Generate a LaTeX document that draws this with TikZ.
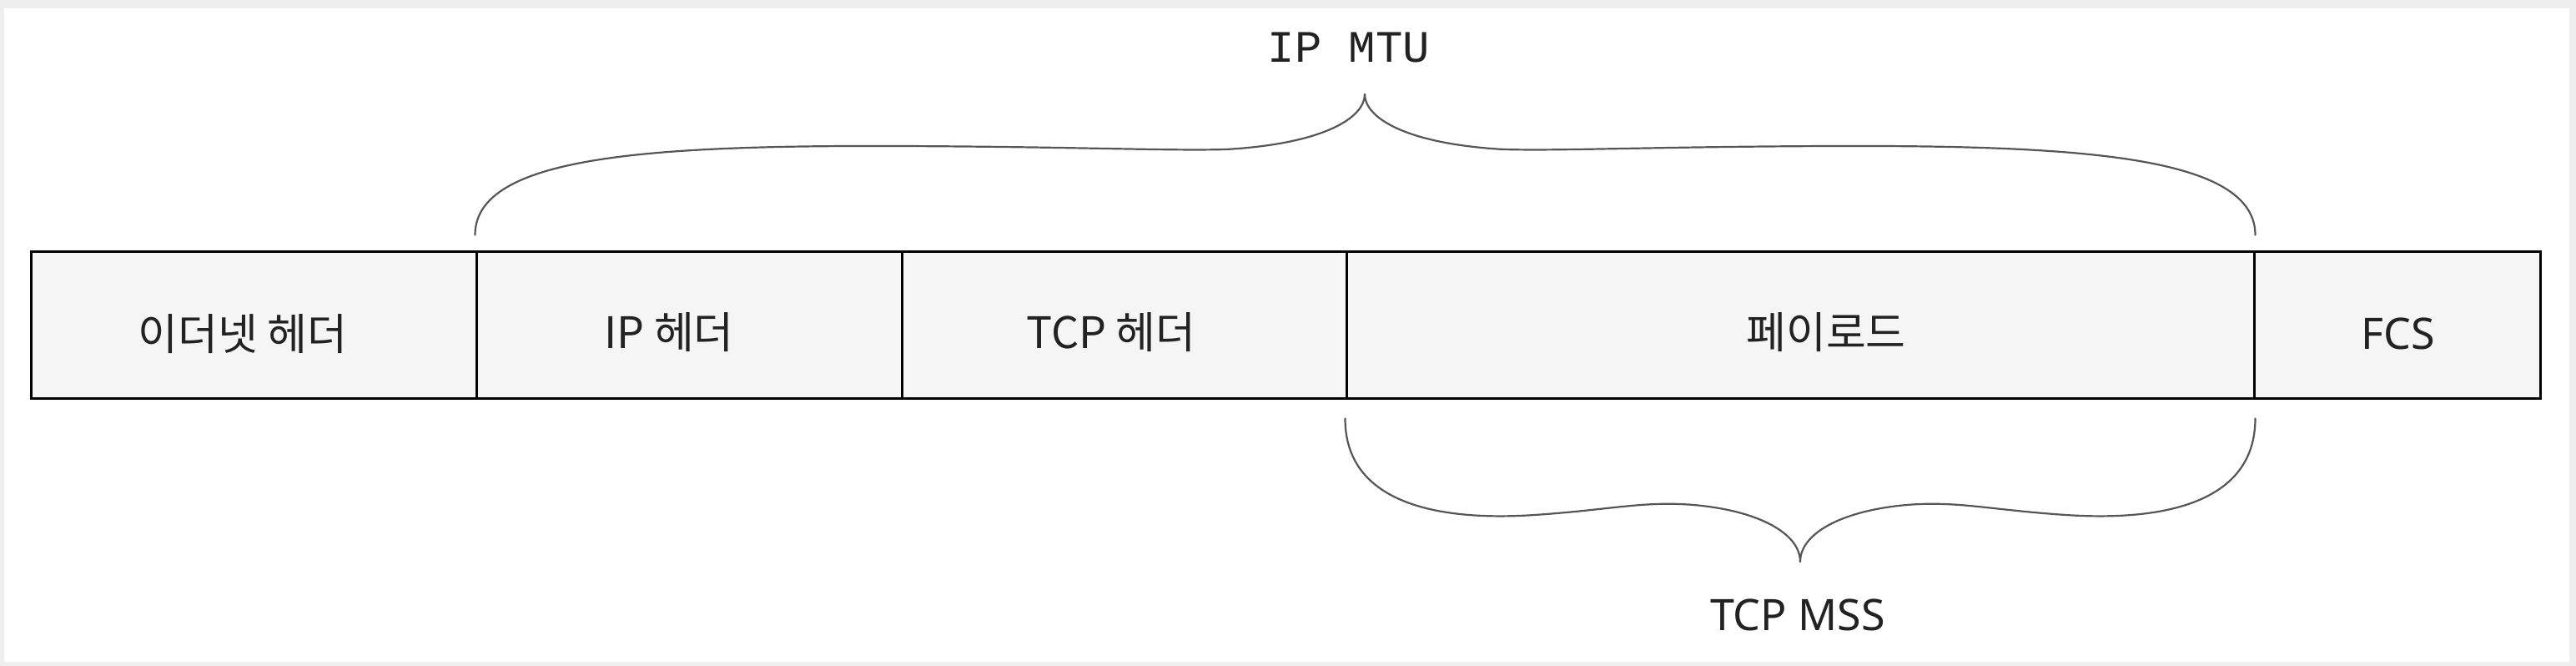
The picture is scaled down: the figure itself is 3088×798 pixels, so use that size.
\documentclass[tikz,border=0pt]{standalone}
\usepackage{fontspec}
\newfontfamily\krfont{Noto Sans CJK KR}
\newfontfamily\monofont{Liberation Mono}
\newfontfamily\sansfont{Noto Sans}
\definecolor{framegray}{HTML}{EEEEEE}
\definecolor{cellfill}{HTML}{F5F5F5}
\definecolor{bracegray}{HTML}{555555}
\definecolor{ink}{HTML}{222222}
\tikzset{
  cell/.style={draw=black, fill=cellfill, line width=0.75pt, rectangle, inner sep=0pt, minimum height=44pt},
  krlabel/.style={font=\krfont\fontsize{13pt}{15pt}\selectfont, text=ink, inner sep=0pt},
  sanslabel/.style={font=\sansfont\fontsize{13pt}{15pt}\selectfont, text=ink, inner sep=0pt},
  monolabel/.style={font=\monofont\fontsize{13.5pt}{16pt}\selectfont, text=ink, inner sep=0pt},
  bracestyle/.style={draw=bracegray, line width=0.55pt, line cap=round}
}
\begin{document}
\begin{tikzpicture}[x=0.25pt, y=-0.25pt]
\useasboundingbox (0,0) rectangle (3088,798);
\fill[framegray] (0,0) rectangle (3088,798);
\fill[white] (5,10) rectangle (3080,793);
% cells
\node[cell, minimum width=133.5pt] (eth) at (304,390) {};
\node[cell, minimum width=127.5pt] (ip) at (826,390) {};
\node[cell, minimum width=133.25pt] (tcp) at (1347.5,390) {};
\node[cell, minimum width=272pt] (pay) at (2158,390) {};
\node[cell, minimum width=85.75pt] (fcs) at (2873.5,390) {};
% labels
\node[krlabel] (ethl) at (291,400) {이더넷 헤더};
\node[krlabel] (ipl) at (802,398) {IP 헤더};
\node[krlabel] (tcpl) at (1332,398) {TCP 헤더};
\node[krlabel] (payl) at (2189,398) {페이로드};
\node[sanslabel] (fcsl) at (2875,400) {FCS};
\node[monolabel] (mtu) at (1617,57) {IP MTU};
\node[sanslabel] (mss) at (2155,737) {TCP MSS};
% IP MTU brace
\coordinate (mtuL) at ([yshift=4.75pt]ip.north west);
\coordinate (mtuR) at ([yshift=4.75pt]pay.north east);
\coordinate (mtuT) at (1636,113);
\draw[bracestyle] (mtuL) .. controls +(0,-95) and (780,174) .. (1080,175)
  .. controls (1300,176) and (1400,181) .. (1470,179)
  .. controls (1590,172) and (1636,140) .. (mtuT);
\draw[bracestyle] (mtuR) .. controls +(0,-95) and (2492,174) .. (2192,175)
  .. controls (1972,176) and (1872,181) .. (1802,179)
  .. controls (1682,172) and (1636,140) .. (mtuT);
% TCP MSS brace
\coordinate (mssL) at ([yshift=-5.5pt]pay.south west);
\coordinate (mssR) at ([yshift=-5.5pt]pay.south east);
\coordinate (mssT) at (2158,673);
\draw[bracestyle] (mssL) .. controls +(0,100) and (1720,625) .. (1840,617)
  .. controls (1930,611) and (1970,600) .. (2030,605)
  .. controls (2110,612) and (2158,640) .. (mssT);
\draw[bracestyle] (mssR) .. controls +(0,100) and (2596,625) .. (2476,617)
  .. controls (2386,611) and (2346,600) .. (2286,605)
  .. controls (2206,612) and (2158,640) .. (mssT);
\end{tikzpicture}
\end{document}
